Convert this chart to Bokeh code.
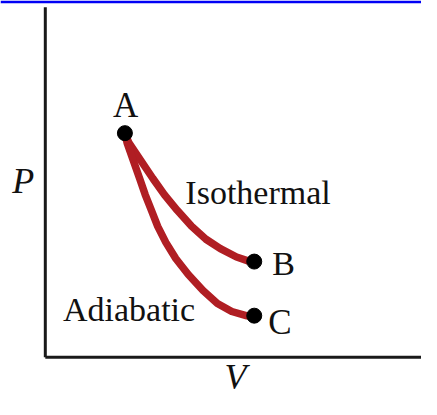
from bokeh.plotting import figure
from bokeh.models import Range1d
from bokeh.core.properties import value
from bokeh.embed import file_html
from bokeh.resources import INLINE

# --- data (arbitrary units) ---
point_names = ["A", "B", "C"]
point_v = [2.16, 5.67, 5.67]
point_p = [6.42, 2.74, 1.19]

iso_v = [2.16, 2.27, 2.92, 3.23, 3.58, 3.97, 4.36, 4.75, 5.19, 5.50, 5.67]
iso_p = [6.42, 6.14, 5.12, 4.66, 4.21, 3.75, 3.38, 3.11, 2.87, 2.76, 2.74]

adi_v = [2.16, 2.22, 2.56, 2.71, 2.88, 3.05, 3.27, 3.54, 3.88, 4.28, 4.67, 5.06, 5.45, 5.67]
adi_p = [6.42, 6.14, 5.12, 4.66, 4.21, 3.75, 3.29, 2.83, 2.37, 1.91, 1.54, 1.31, 1.19, 1.19]

curve_names = ["Isothermal", "Adiabatic"]
axis_names = ["P", "V"]

RED = "#B01E23"
INK = "#111111"
SERIF = value("Liberation Serif")

X0, X1 = -1.216, 10.209
Y0, Y1 = -1.212, 10.135
AXIS_TOP = 10.03

p = figure(width=421, height=399, output_backend="svg", toolbar_location=None,
           x_range=Range1d(X0, X1), y_range=Range1d(Y0, Y1),
           x_axis_type=None, y_axis_type=None,
           min_border_left=0, min_border_right=0, min_border_bottom=0, min_border_top=3)
p.grid.visible = False
p.outline_line_color = None
p.background_fill_color = "white"
p.border_fill_color = "#0000F5"

# axes (P and V axes, no ticks)
p.segment(x0=[0, 0], y0=[0, 0], x1=[X1, 0], y1=[0, AXIS_TOP],
          line_color="#1a1a1a", line_width=3)

# processes
p.line(iso_v, iso_p, line_color=RED, line_width=7.5, line_join="round", line_cap="round")
p.line(adi_v, adi_p, line_color=RED, line_width=7.5, line_join="round", line_cap="round")
p.scatter(point_v, point_p, size=15, fill_color="black", line_color="black")

def lab(x, y, t, size="34px", style="normal", align="left"):
    p.text(x=[x], y=[y], text=[t], text_font=SERIF, text_font_size=size,
           text_font_style=style, text_align=align,
           text_baseline="alphabetic", text_color=INK)

lab(2.18, 7.20, point_names[0], size="35px", align="center")
lab(6.16, 2.68, point_names[1], size="34px")
lab(6.05, 1.00, point_names[2], size="35px")
lab(3.80, 4.71, curve_names[0])
lab(0.48, 1.37, curve_names[1])
lab(-0.90, 5.06, axis_names[0], size="36px", style="italic")
lab(5.16, -0.58, axis_names[1], size="36px", style="italic", align="center")

open("out.html", "w").write(file_html(p, INLINE))
